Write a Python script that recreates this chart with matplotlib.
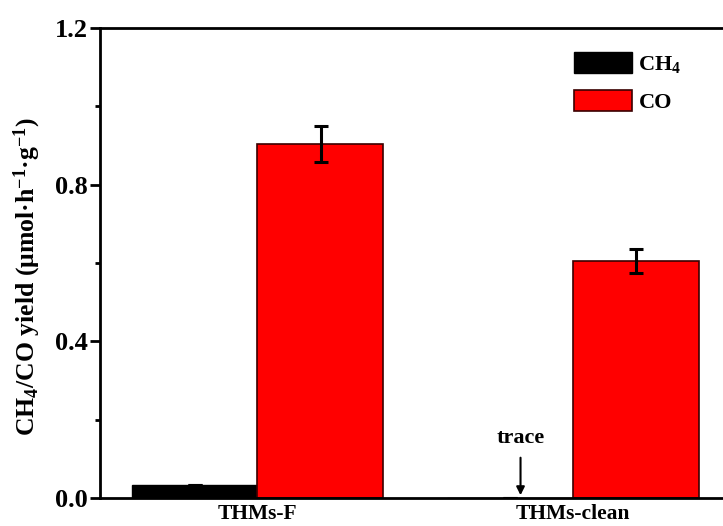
import matplotlib
matplotlib.use("Agg")
import matplotlib.pyplot as plt
import numpy as np

# Photocatalytic CO2 reduction yields
samples = ["THMs-F", "THMs-clean"]
ch4_yield = [0.032, 0.0]
ch4_err = [0.002, 0.0]
co_yield = [0.905, 0.605]
co_err = [0.046, 0.030]
y_ticks = [0.0, 0.4, 0.8, 1.2]

plt.rcParams["font.family"] = ["Liberation Serif", "DejaVu Serif"]
plt.rcParams["font.weight"] = "bold"
plt.rcParams["mathtext.default"] = "regular"

fig = plt.figure(figsize=(7.23, 5.26), dpi=100)
ax = fig.add_axes([100 / 723, 28 / 526, 630 / 723, 470 / 526])

x = np.arange(1, len(samples) + 1)
w = 0.4
err_kw = dict(elinewidth=2.2, capthick=2.2, ecolor="black")
ax.bar(x - w / 2, ch4_yield, w, color="black", edgecolor="black", linewidth=1,
       yerr=[np.zeros(len(ch4_err)), ch4_err], capsize=5, error_kw=err_kw, label="CH$_4$")
ax.bar(x + w / 2, co_yield, w, color="#ff0000", edgecolor="#3a0000", linewidth=1.2,
       yerr=co_err, capsize=5, error_kw=err_kw, label="CO")

ax.set_xlim(0.5, 2.5)
ax.set_ylim(0, 1.2)
ax.set_xticks(x)
ax.set_xticklabels(samples, fontsize=15.5, fontweight="bold")
ax.tick_params(axis="x", length=0, pad=4)
ax.set_yticks(y_ticks)
ax.set_yticklabels([f"{v:.1f}" for v in y_ticks], fontsize=19, fontweight="bold")
ax.set_yticks([0.2, 0.6, 1.0], minor=True)
ax.tick_params(axis="y", which="major", direction="out", length=7, width=2, pad=2)
ax.tick_params(axis="y", which="minor", direction="out", length=3.5, width=2)
for s in ax.spines.values():
    s.set_linewidth(2)

ax.set_ylabel("CH$_4$/CO yield (μmol·h$^{-1}$·g$^{-1}$)", fontsize=18.5, fontweight="bold")
ax.yaxis.set_label_coords(-0.09, 0.47)

# trace amount of CH4 for the cleaned sample
ax.annotate("", xy=(1.835, 0.0), xytext=(1.835, 0.11),
            arrowprops=dict(arrowstyle="-|>", color="black", lw=1.5, mutation_scale=12))
ax.text(1.835, 0.14, "trace", ha="center", va="baseline", fontsize=16, fontweight="bold")

leg = ax.legend(loc="upper left", bbox_to_anchor=(474 / 630, 1 - 24 / 470), frameon=False,
                fontsize=16, handlelength=2.6, handleheight=1.05, labelspacing=0.7,
                handletextpad=0.3, borderpad=0, borderaxespad=0)

fig.savefig("out.png", dpi=100)
